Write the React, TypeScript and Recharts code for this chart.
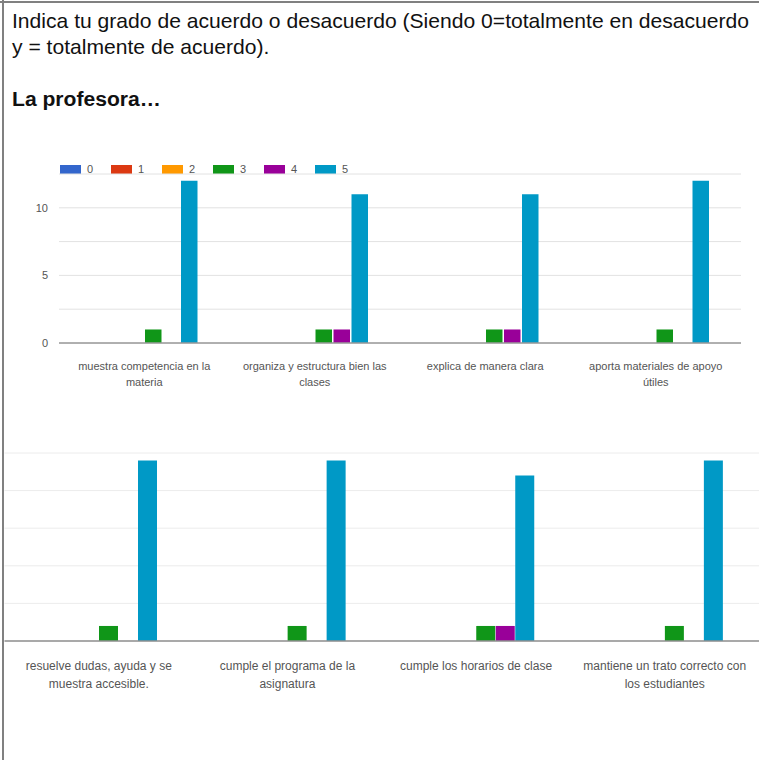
import React from "react"
import { Bar, BarChart, CartesianGrid, XAxis, YAxis } from "recharts"

const FONT = "'Liberation Sans', Arial, sans-serif"

// answer levels 0..5 and their colours
const levels = ["0", "1", "2", "3", "4", "5"]
const levelColors = ["#3366cc", "#dc3912", "#ff9900", "#109618", "#990099", "#0099c6"]

// first block of statements
const topCategories = [
  "muestra competencia en la materia",
  "organiza y estructura bien las clases",
  "explica de manera clara",
  "aporta materiales de apoyo útiles",
]
const top0 = [0, 0, 0, 0]
const top1 = [0, 0, 0, 0]
const top2 = [0, 0, 0, 0]
const top3 = [1, 1, 1, 1]
const top4 = [0, 1, 1, 0]
const top5 = [12, 11, 11, 12]

// second block of statements
const bottomCategories = [
  "resuelve dudas, ayuda y se muestra accesible.",
  "cumple el programa de la asignatura",
  "cumple los horarios de clase",
  "mantiene un trato correcto con los estudiantes",
]
const bottom0 = [0, 0, 0, 0]
const bottom1 = [0, 0, 0, 0]
const bottom2 = [0, 0, 0, 0]
const bottom3 = [1, 1, 1, 1]
const bottom4 = [0, 0, 1, 0]
const bottom5 = [12, 12, 11, 12]

const yTicks = [0, 2.5, 5, 7.5, 10, 12.5]
const yLabels = [0, 5, 10]

function buildRows(cats: string[], cols: number[][]) {
  return cats.map((name, i) => {
    const row: Record<string, string | number> = { name }
    cols.forEach((c, k) => (row[`s${k}`] = c[i]))
    return row
  })
}

const topData = buildRows(topCategories, [top0, top1, top2, top3, top4, top5])
const bottomData = buildRows(bottomCategories, [bottom0, bottom1, bottom2, bottom3, bottom4, bottom5])

let ctx: CanvasRenderingContext2D | null = null
function wrapWords(text: string, size: number, maxW: number) {
  if (!ctx) ctx = document.createElement("canvas").getContext("2d")
  ctx!.font = `${size}px 'Liberation Sans'`
  const lines: string[] = []
  let cur = ""
  for (const w of text.split(" ")) {
    const next = cur ? cur + " " + w : w
    if (cur && ctx!.measureText(next).width > maxW) {
      lines.push(cur)
      cur = w
    } else cur = next
  }
  if (cur) lines.push(cur)
  return lines
}

function WrapTick(props: any) {
  const { x, y, payload, wrap, size, lh, dy } = props
  const lines = wrapWords(String(payload.value), size, wrap)
  return (
    <text x={x} y={y + dy} textAnchor="middle" fontSize={size} fontFamily={FONT} fill="#555">
      {lines.map((ln, i) => (
        <tspan key={i} x={x} dy={i === 0 ? "0.71em" : lh}>
          {ln}
        </tspan>
      ))}
    </text>
  )
}

export default function App() {
  return (
    <div
      style={{
        position: "absolute",
        left: 0,
        top: 0,
        width: 759,
        height: 760,
        overflow: "hidden",
        background: "#fff",
        fontFamily: FONT,
      }}
    >
      <div style={{ position: "absolute", left: 12, top: 8, fontSize: 21.1, lineHeight: "26px", color: "#111" }}>
        Indica tu grado de acuerdo o desacuerdo (Siendo 0=totalmente en desacuerdo
        <br />y = totalmente de acuerdo).
      </div>
      <div style={{ position: "absolute", left: 12, top: 86, fontSize: 21.1, lineHeight: "26px", fontWeight: "bold", color: "#111" }}>
        La profesora…
      </div>

      {/* legend */}
      <div style={{ position: "absolute", left: 60, top: 162, display: "flex", fontSize: 11, color: "#555" }}>
        {levels.map((l, i) => (
          <div key={l} style={{ width: 51, display: "flex", alignItems: "center", height: 14 }}>
            <span style={{ width: 21, height: 9, background: levelColors[i], display: "inline-block" }} />
            <span style={{ marginLeft: 6 }}>{l}</span>
          </div>
        ))}
      </div>

      <div style={{ position: "absolute", left: 0, top: 150 }}>
        <BarChart
          width={759}
          height={240}
          data={topData}
          margin={{ top: 24, right: 18, left: 0, bottom: 0 }}
          barSize={16.5}
          barGap={1.5}
        >
          <CartesianGrid vertical={false} stroke="#e2e2e2" />
          <XAxis
            dataKey="name"
            height={47}
            interval={0}
            tickLine={false}
            axisLine={{ stroke: "#9a9a9a", strokeWidth: 1.5 }}
            tick={(p: any) => <WrapTick {...p} wrap={155} size={11} lh={16} dy={11} />}
          />
          <YAxis
            width={59}
            domain={[0, 12.5]}
            ticks={yTicks}
            interval={0}
            axisLine={false}
            tickLine={false}
            tickMargin={5}
            tick={{ fontSize: 11, fill: "#555", fontFamily: FONT }}
            tickFormatter={(v: number) => (yLabels.includes(v) ? String(v) : "")}
          />
          {levels.map((l, i) => (
            <Bar key={l} dataKey={`s${i}`} name={l} fill={levelColors[i]} isAnimationActive={false} />
          ))}
        </BarChart>
      </div>

      <div style={{ position: "absolute", left: 0, top: 430 }}>
        <BarChart
          width={759}
          height={280}
          data={bottomData}
          margin={{ top: 23, right: 0, left: 4.5, bottom: 0 }}
          barSize={19}
          barGap={0.5}
        >
          <CartesianGrid vertical={false} stroke="#ececec" />
          <XAxis
            dataKey="name"
            height={69}
            interval={0}
            tickLine={false}
            axisLine={{ stroke: "#8f8f8f", strokeWidth: 1.5 }}
            tick={(p: any) => <WrapTick {...p} wrap={172} size={12} lh={18} dy={12.5} />}
          />
          <YAxis hide width={0} domain={[0, 12.5]} ticks={yTicks} interval={0} />
          {levels.map((l, i) => (
            <Bar key={l} dataKey={`s${i}`} name={l} fill={levelColors[i]} isAnimationActive={false} />
          ))}
        </BarChart>
      </div>

      {/* table cell border */}
      <div style={{ position: "absolute", left: 0, top: 1, width: 759, height: 2, background: "#808080" }} />
      <div style={{ position: "absolute", left: 2, top: 0, width: 2, height: 760, background: "#808080" }} />
    </div>
  )
}
